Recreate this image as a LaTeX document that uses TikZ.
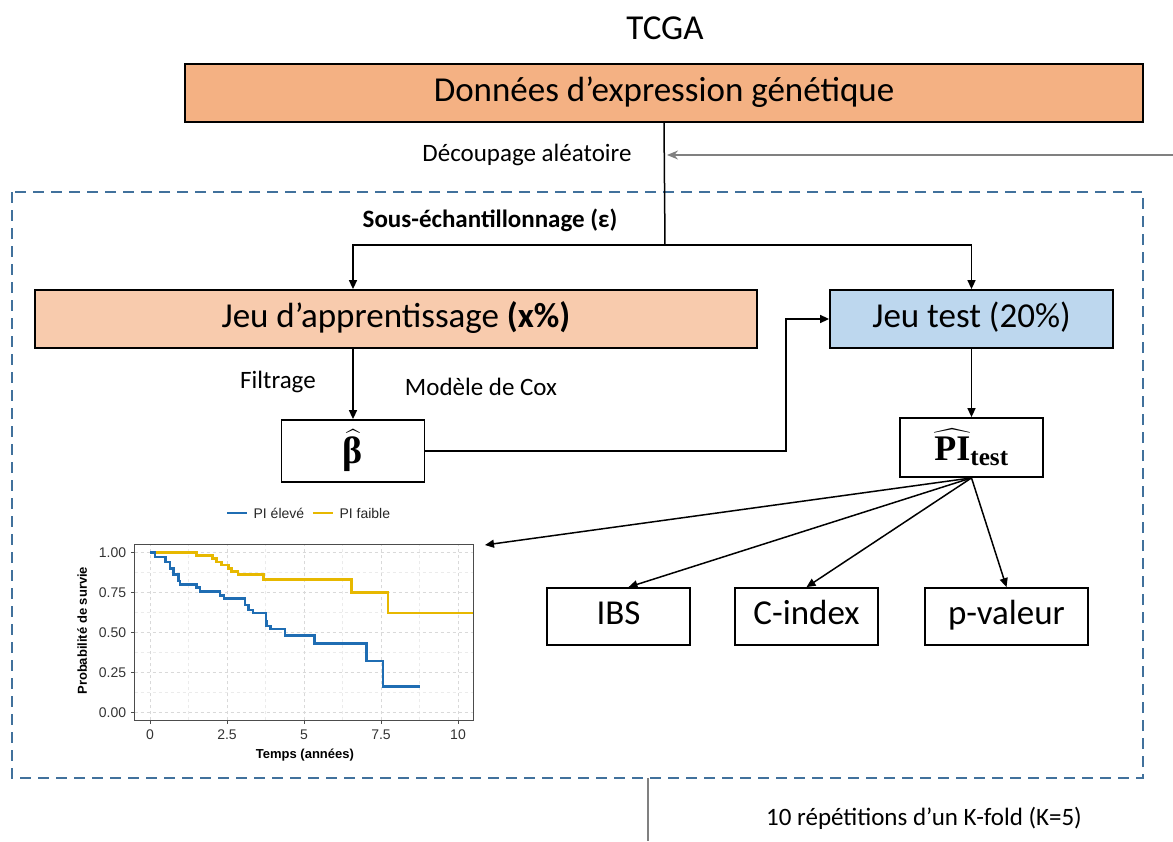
\documentclass[tikz,border=0pt]{standalone}
\usepackage{amsmath}
\usepackage[no-math]{fontspec}
\setmainfont{Carlito}
\newfontfamily\plotfont{Liberation Sans}
\newfontfamily\greekserif{Liberation Serif}
\usetikzlibrary{arrows.meta,positioning,calc}
\definecolor{cdonnees}{HTML}{F4B183}
\definecolor{cappr}{HTML}{F8CBAD}
\definecolor{ctest}{HTML}{BDD7EE}
\definecolor{cframe}{HTML}{41719C}
\definecolor{kmhigh}{HTML}{1F6DB3}
\definecolor{kmlow}{HTML}{E7B800}
\tikzset{
  bigtxt/.style   = {font=\fontsize{35}{40}\selectfont},
  smalltxt/.style = {font=\fontsize{25}{30}\selectfont},
  box/.style      = {draw, line width=1.8pt, rectangle, minimum height=58pt,
                     inner sep=0pt, align=center, text height=24pt,
                     text depth=8pt, bigtxt},
  mathbox/.style  = {box, text height={}, text depth={}},
  sig/.style      = {-{Triangle[length=9pt,width=8pt]}, line width=1.5pt},
  back/.style     = {-{Stealth[length=11pt,width=9pt]}, line width=1.3pt, gray},
  frame/.style    = {cframe, line width=2.5pt, dash pattern=on 11pt off 7pt},
  ticklab/.style  = {font=\plotfont\fontsize{14}{16}\selectfont, text=black!80},
  axtitle/.style  = {font=\plotfont\bfseries\fontsize{13}{15}\selectfont},
  kmline/.style   = {line width=2.6pt},
}
\begin{document}
\begin{tikzpicture}[x=1pt,y=-1pt]
\useasboundingbox (0,0) rectangle (1173,841);
% data source
\node[bigtxt] (tcga) at (665,28) {TCGA};
\node[box, fill=cdonnees, minimum width=958pt] (donnees) at (664,93)
  {Donn\'ees d’expression g\'en\'etique};
\node[smalltxt] (decoup) at (527,155) {D\'ecoupage al\'eatoire};
% resampling loop
\draw[frame] (12,192) rectangle (1143,778);
\node[smalltxt, font=\fontsize{25}{30}\selectfont\bfseries] (sous) at (490,220)
  {Sous-\'echantillonnage (ε)};
\node[box, fill=cappr, minimum width=722pt] (appr) at (396,319)
  {Jeu d’apprentissage \textbf{(x\%)}};
\node[box, fill=ctest, minimum width=283pt] (test) at (971.5,319) {Jeu test (20\%)};
\node[mathbox, minimum width=143pt, minimum height=62pt, font=\fontsize{38}{40}\selectfont]
  (beta) at (353,451) {$\widehat{\text{\greekserif\bfseries β}}$};
\node[mathbox, minimum width=143pt, minimum height=59pt, font=\fontsize{36}{40}\selectfont]
  (pi) at (971.5,447.5)
  {$\widehat{\text{\greekserif\bfseries PI}}_{\text{\greekserif\bfseries test}}$};
\node[smalltxt] (filtr) at (278,382) {Filtrage};
\node[smalltxt] (cox) at (481,387) {Mod\`ele de Cox};
\node[box, minimum width=143pt, minimum height=57pt] (ibs) at (618.5,616.5) {IBS};
\node[box, minimum width=143pt, minimum height=57pt] (cindex) at (806.5,616.5) {C-index};
\node[box, minimum width=163pt, minimum height=57pt] (pval) at (1006.5,616.5) {p-valeur};
\node[smalltxt] (rep) at (924,818) {10 r\'epétitions d’un K-fold (K=5)};
\coordinate (split) at (665,245);
\coordinate (cut) at (667,155);
\coordinate (loopin) at (1173,155);
\coordinate (loopout) at (648,778);
\coordinate (loopend) at (648,841);
\coordinate (km) at (485,545);
% connectors
\draw[line width=1.5pt] (donnees.south) -- (split);
\draw[sig] (split) -| ([xshift=-43pt]appr.north);
\draw[sig] (split) -| (test.north);
\draw[back] (loopin) -- (cut);
\draw[sig] ([xshift=-43pt]appr.south) -- (beta.north);
\draw[sig] (beta.east) -| ([xshift=-43pt]test.west) -- (test.west);
\draw[sig] (test.south) -- (pi.south |- pi.north);
\draw[sig] (pi.south) -- (km);
\draw[sig] (pi.south) -- ([xshift=10pt]ibs.north);
\draw[sig] (pi.south) -- (cindex.north);
\draw[sig] (pi.south) -- (pval.north);
\draw[gray, line width=1.3pt] (loopout) -- (loopend);
% survival curves
\begin{scope}[shift={(150,712.3)}, x=30.8pt, y=160pt]
  \fill[white] (-0.5,-0.05) rectangle (10.5,1.05);
  \foreach \t in {1.25,3.75,6.25,8.75}
    \draw[black!8, line width=0.6pt, dashed] (\t,-0.05) -- (\t,1.05);
  \foreach \p in {0.125,0.375,0.625,0.875}
    \draw[black!8, line width=0.6pt, dashed] (-0.5,\p) -- (10.5,\p);
  \foreach \t in {0,2.5,5,7.5,10}{
    \draw[black!15, line width=0.8pt, dashed] (\t,-0.05) -- (\t,1.05);
    \draw[black!70, line width=1pt] (\t,-0.05) -- (\t,-0.075);
    \node[ticklab, anchor=north] at (\t,-0.085) {\t};}
  \foreach \p/\lab in {0/0.00,0.25/0.25,0.5/0.50,0.75/0.75,1/1.00}{
    \draw[black!15, line width=0.8pt, dashed] (-0.5,\p) -- (10.5,\p);
    \draw[black!70, line width=1pt] (-0.5,\p) -- (-0.62,\p);
    \node[ticklab, anchor=east] at (-0.66,\p) {\lab};}
  \draw[kmlow, kmline] (0,1) -| (1.51,0.98) -| (2.02,0.96) -| (2.16,0.94)
    -| (2.32,0.92) -| (2.54,0.90) -| (2.65,0.88) -| (2.86,0.86) -| (3.68,0.83)
    -| (6.54,0.75) -| (7.73,0.62) -- (10.5,0.62);
  \draw[kmhigh, kmline] (0,1) -| (0.16,0.97) -| (0.51,0.94) -| (0.65,0.90)
    -| (0.76,0.86) -| (0.92,0.82) -| (0.97,0.80) -| (1.51,0.78) -| (1.62,0.755)
    -| (2.27,0.73) -| (2.40,0.71) -| (3.08,0.67) -| (3.19,0.64) -| (3.35,0.62)
    -| (3.76,0.57) -| (3.78,0.54) -| (3.91,0.52) -| (4.38,0.48) -| (5.35,0.43)
    -| (7.03,0.32) -| (7.57,0.16) -- (8.78,0.16);
  \draw[black!70, line width=1.1pt] (-0.5,-0.05) rectangle (10.5,1.05);
  % legend
  \draw[kmhigh, kmline] (2.5,1.245) -- (3.15,1.245);
  \node[ticklab, anchor=west, text=black!85] (leghigh) at (3.25,1.245) {PI élevé};
  \draw[kmlow, kmline] (5.29,1.245) -- (5.94,1.245);
  \node[ticklab, anchor=west, text=black!85] (leglow) at (6.04,1.245) {PI faible};
  \node[axtitle] (xlab) at (5.03,-0.27) {Temps (années)};
  \node[axtitle, rotate=90] (ylab) at (-2.2,0.51) {Probabilité de survie};
\end{scope}
\end{tikzpicture}
\end{document}
